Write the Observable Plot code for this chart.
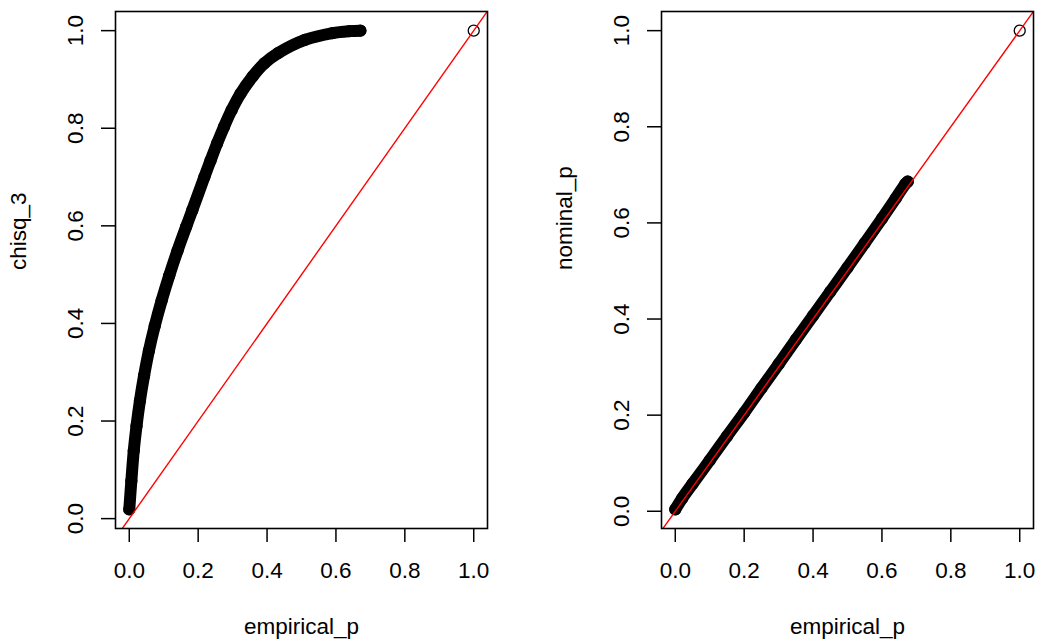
<!DOCTYPE html>
<html>
<head>
<meta charset="utf-8">
<script src="https://cdn.jsdelivr.net/npm/d3@7"></script>
<script src="https://cdn.jsdelivr.net/npm/@observablehq/plot@0.6"></script>
<style>
  html, body { margin: 0; padding: 0; background: #fff; }
  #wrap { position: relative; width: 1050px; height: 644px; overflow: hidden; }
  #wrap svg text { font-size: 22.5px; }
</style>
</head>
<body>
<div id="wrap"></div>
<script>
// ---- data ----
const xTicks = [0.0, 0.2, 0.4, 0.6, 0.8, 1.0];
const yTicks = [0.0, 0.2, 0.4, 0.6, 0.8, 1.0];

// left panel: chisq_3 vs empirical_p
const leftEmpirical = [0.000, 0.006, 0.013, 0.021, 0.031, 0.043, 0.057, 0.074, 0.094, 0.116, 0.140, 0.165, 0.183, 0.218, 0.236, 0.255, 0.275, 0.297, 0.323, 0.358, 0.392, 0.432, 0.510, 0.590, 0.640, 0.671];
const chisq3        = [0.019, 0.077, 0.139, 0.190, 0.242, 0.293, 0.344, 0.395, 0.447, 0.498, 0.549, 0.598, 0.632, 0.700, 0.734, 0.769, 0.803, 0.837, 0.871, 0.906, 0.933, 0.954, 0.981, 0.995, 0.999, 1.000];

// right panel: nominal_p vs empirical_p
const rightEmpirical = [0.000, 0.020, 0.050, 0.100, 0.150, 0.200, 0.250, 0.300, 0.350, 0.400, 0.450, 0.500, 0.550, 0.600, 0.640, 0.668, 0.675];
const nominalP       = [0.004, 0.027, 0.057, 0.106, 0.156, 0.205, 0.256, 0.306, 0.357, 0.407, 0.457, 0.507, 0.558, 0.609, 0.651, 0.681, 0.686];

// outlying point present in both panels
const outlierEmpirical = [1.0];
const outlierChisq3 = [1.0];
const outlierNominal = [1.0];

const xLabels = ["empirical_p", "empirical_p"];
const yLabels = ["chisq_3", "nominal_p"];
const abline = {intercept: 0, slope: 1};

// ---- drawing ----
const fmt = d3.format(".1f");
const FS = 22.5;
function rDomain(values) {
  const [lo, hi] = d3.extent(values);
  const pad = 0.04 * (hi - lo);
  return [lo - pad, hi + pad];
}

function panel({xs, ys, ox, oy, xLabel, yLabel, marginLeft, marginRight}) {
  const pts = xs.map((x, i) => ({x, y: ys[i]}));
  const out = ox.map((x, i) => ({x, y: oy[i]}));
  const xDom = rDomain(xs.concat(ox));
  const yDom = rDomain(ys.concat(oy));
  const lineSeg = [{
    x1: xDom[0], y1: abline.intercept + abline.slope * xDom[0],
    x2: xDom[1], y2: abline.intercept + abline.slope * xDom[1]
  }];
  return Plot.plot({
    width: 525,
    height: 644,
    marginTop: 11,
    marginBottom: 116,
    marginLeft,
    marginRight,
    style: {
      background: "#fff",
      color: "#000",
      fontFamily: "'Liberation Sans', Arial, Helvetica, sans-serif",
      fontSize: FS + "px"
    },
    x: {domain: xDom, label: null},
    y: {domain: yDom, label: null},
    marks: [
      Plot.line(pts, {x: "x", y: "y", stroke: "black", strokeWidth: 12,
        strokeLinecap: "round", strokeLinejoin: "round", curve: "catmull-rom"}),
      Plot.dot(pts, {x: "x", y: "y", r: 5.5, stroke: "black", fill: "none", strokeWidth: 1.3}),
      Plot.dot(out, {x: "x", y: "y", r: 5.5, stroke: "black", fill: "none", strokeWidth: 1.3}),
      Plot.link(lineSeg, {x1: "x1", y1: "y1", x2: "x2", y2: "y2", stroke: "red", strokeWidth: 1.4, clip: true}),
      Plot.frame({stroke: "black", strokeWidth: 1.6}),
      Plot.axisX({ticks: xTicks, tickSize: 14, tickPadding: 20, tickFormat: fmt, label: null, strokeWidth: 1.5, fontSize: FS}),
      Plot.axisY({ticks: yTicks, tickSize: 14, tickPadding: 19, tickRotate: -90, tickFormat: fmt, label: null, strokeWidth: 1.5, fontSize: FS}),
      Plot.text([xLabel], {frameAnchor: "bottom", dy: 105, lineAnchor: "bottom", text: d => d, fill: "black", fontSize: FS}),
      Plot.text([yLabel], {frameAnchor: "left", dx: -90, rotate: -90, lineAnchor: "bottom", text: d => d, fill: "black", fontSize: FS})
    ]
  });
}

const wrap = document.getElementById("wrap");
const left = panel({
  xs: leftEmpirical, ys: chisq3, ox: outlierEmpirical, oy: outlierChisq3,
  xLabel: xLabels[0], yLabel: yLabels[0], marginLeft: 115, marginRight: 38
});
left.style.position = "absolute";
left.style.left = "0px";
left.style.top = "0px";
wrap.appendChild(left);

const right = panel({
  xs: rightEmpirical, ys: nominalP, ox: outlierEmpirical, oy: outlierNominal,
  xLabel: xLabels[1], yLabel: yLabels[1], marginLeft: 136, marginRight: 17
});
right.style.position = "absolute";
right.style.left = "525px";
right.style.top = "0px";
wrap.appendChild(right);
</script>
</body>
</html>
